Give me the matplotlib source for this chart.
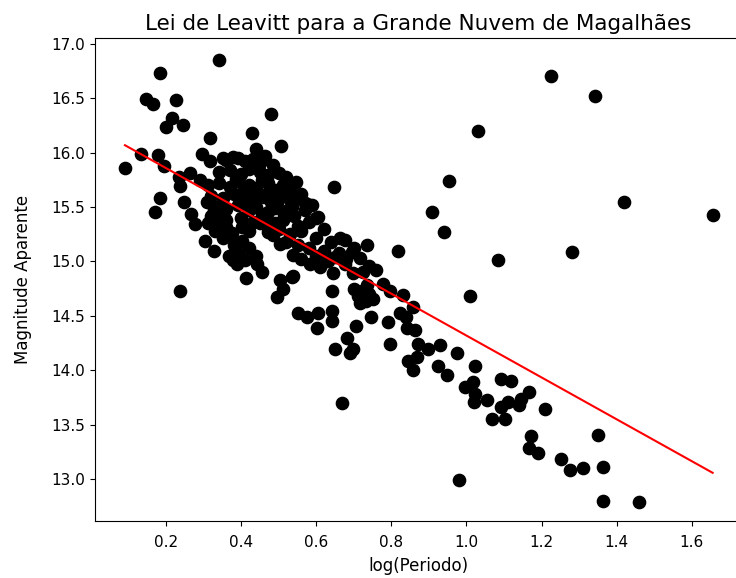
import numpy as np
import matplotlib.pyplot as plt

# pontos isolados e bordas da nuvem
log_periodo = [
    0.090, 0.133, 0.147, 0.165, 0.184, 0.179, 0.195, 0.171, 0.184, 0.227,
    0.215, 0.200, 0.244, 0.237, 0.317, 0.340, 0.428, 0.479, 0.439, 0.463,
    0.505, 0.484, 0.546, 0.588, 0.604, 0.648, 0.663, 0.676, 0.736, 0.818,
    0.694, 0.716, 0.954, 0.907, 0.940, 1.030, 1.226, 1.343, 1.419, 1.656,
    1.280, 1.083, 1.010, 0.641, 0.539, 0.552, 0.605, 0.641, 0.601, 0.641,
    0.705, 0.745, 0.792, 0.823, 0.840, 0.841, 0.863, 0.681, 0.796, 0.650,
    0.690, 0.698, 0.871, 0.898, 0.929, 0.845, 0.867, 0.858, 0.974, 0.925,
    0.947, 1.022, 0.996, 1.018, 1.023, 1.020, 0.668, 1.056, 1.091, 1.120,
    1.091, 1.110, 1.068, 1.102, 1.145, 1.167, 1.140, 1.208, 1.171, 1.167,
    1.191, 1.351, 1.251, 1.275, 1.311, 1.363, 0.980, 1.365, 1.460,
    # lobulo inferior esquerdo e bordas
    0.246, 0.266, 0.277, 0.308, 0.304, 0.328, 0.370, 0.403, 0.379, 0.410,
    0.412, 0.442, 0.455, 0.495, 0.510, 0.534, 0.574, 0.574, 0.405, 0.450,
    0.366, 0.388, 0.503, 0.485, 0.503, 0.295, 0.317, 0.352, 0.379, 0.264,
    0.233, 0.237, 0.290, 0.326, 0.339, 0.401, 0.375, 0.725, 0.778, 0.796,
    0.832, 0.858, 0.539, 0.583, 0.610, 0.645, 0.676, 0.698,
    0.700, 0.712, 0.722, 0.731, 0.741, 0.715, 0.735, 0.752,
    # nucleo denso
    0.36, 0.39, 0.41, 0.43, 0.45,
    0.34, 0.37, 0.40, 0.42, 0.45, 0.47, 0.50, 0.52,
    0.31, 0.34, 0.37, 0.39, 0.42, 0.44, 0.47, 0.49, 0.51, 0.53, 0.56,
    0.32, 0.35, 0.38, 0.41, 0.43, 0.46, 0.48, 0.50, 0.53, 0.55, 0.57,
    0.33, 0.36, 0.39, 0.42, 0.44, 0.47, 0.49, 0.52, 0.54, 0.57, 0.60,
    0.36, 0.40, 0.43, 0.46, 0.49, 0.51, 0.55, 0.58, 0.62,
    0.42, 0.47, 0.50, 0.53, 0.56, 0.60, 0.64,
    0.52, 0.55, 0.58, 0.62, 0.66, 0.70,
    0.56, 0.60, 0.63, 0.65, 0.68, 0.74, 0.76,
    0.31, 0.33, 0.35, 0.36, 0.38, 0.39, 0.42, 0.44, 0.35, 0.32,
    0.385, 0.405, 0.435, 0.455, 0.475, 0.495, 0.515, 0.535, 0.455, 0.485,
]

magnitude = [
    15.86, 15.99, 16.49, 16.45, 16.73, 15.98, 15.88, 15.45, 15.58, 16.48,
    16.32, 16.23, 16.25, 14.73, 16.13, 16.85, 16.18, 16.35, 16.03, 15.97,
    16.06, 15.89, 15.73, 15.52, 15.41, 15.68, 15.22, 15.20, 15.15, 15.10,
    15.09, 15.03, 15.74, 15.45, 15.27, 16.20, 16.70, 16.52, 15.55, 15.43,
    15.09, 15.01, 14.68, 14.73, 14.87, 14.53, 14.53, 14.55, 14.39, 14.45,
    14.41, 14.49, 14.44, 14.53, 14.49, 14.39, 14.37, 14.30, 14.24, 14.20,
    14.16, 14.20, 14.24, 14.20, 14.23, 14.09, 14.12, 14.00, 14.16, 14.04,
    13.96, 14.04, 13.85, 13.89, 13.78, 13.71, 13.70, 13.73, 13.92, 13.90,
    13.66, 13.71, 13.55, 13.55, 13.74, 13.80, 13.68, 13.65, 13.40, 13.29,
    13.24, 13.41, 13.19, 13.09, 13.10, 13.11, 12.99, 12.80, 12.79,
    15.55, 15.44, 15.34, 15.55, 15.19, 15.10, 15.25, 15.19, 15.01, 15.01,
    14.85, 14.98, 14.90, 14.67, 14.75, 14.86, 14.49, 15.53, 15.33, 15.35,
    15.05, 14.98, 14.83, 15.24, 15.16, 15.99, 15.92, 15.95, 15.96, 15.81,
    15.78, 15.69, 15.75, 15.47, 15.38, 15.32, 15.26, 14.90, 14.79, 14.73,
    14.69, 14.58, 15.06, 14.98, 14.95, 14.89, 14.98, 14.89,
    14.75, 14.68, 14.73, 14.64, 14.70, 14.62, 14.78, 14.66,
    15.93, 15.95, 15.92, 15.94, 15.90,
    15.82, 15.84, 15.80, 15.85, 15.82, 15.79, 15.81, 15.78,
    15.70, 15.72, 15.68, 15.74, 15.70, 15.67, 15.72, 15.66, 15.70, 15.65, 15.62,
    15.60, 15.58, 15.62, 15.57, 15.61, 15.59, 15.55, 15.60, 15.56, 15.58, 15.54,
    15.50, 15.48, 15.52, 15.47, 15.50, 15.45, 15.49, 15.46, 15.42, 15.47, 15.40,
    15.38, 15.40, 15.36, 15.39, 15.35, 15.38, 15.33, 15.36, 15.30,
    15.28, 15.27, 15.30, 15.25, 15.28, 15.22, 15.18,
    15.18, 15.15, 15.12, 15.10, 15.08, 15.12,
    15.02, 15.05, 15.00, 15.04, 15.02, 14.96, 14.92,
    15.35, 15.28, 15.22, 15.32, 15.15, 15.08, 15.12, 15.05, 15.42, 15.42,
    15.76, 15.64, 15.53, 15.44, 15.65, 15.54, 15.43, 15.50, 15.75, 15.34,
]

# reta de ajuste
inclinacao = -1.92
intercepto = 16.24

x = np.array(log_periodo)
y = np.array(magnitude)

fig = plt.figure(figsize=(7.36, 5.78), dpi=100)
ax = fig.add_axes([0.129, 0.099, 0.879, 0.835])
ax.scatter(x, y, color='black', s=78)
x_reta = np.sort(x)
ax.plot(x_reta, inclinacao * x_reta + intercepto, color='red')
ax.set_xlim(0.010, 1.734)
ax.set_ylim(12.62, 17.05)
ax.tick_params(labelsize=11)
ax.tick_params(axis='x', pad=7)
ax.set_xlabel('log(Periodo)', fontsize=12, labelpad=5)
ax.set_ylabel('Magnitude Aparente', fontsize=12, labelpad=14)
ax.set_title('Lei de Leavitt para a Grande Nuvem de Magalhães', fontsize=15.5)
fig.savefig('out.png')
